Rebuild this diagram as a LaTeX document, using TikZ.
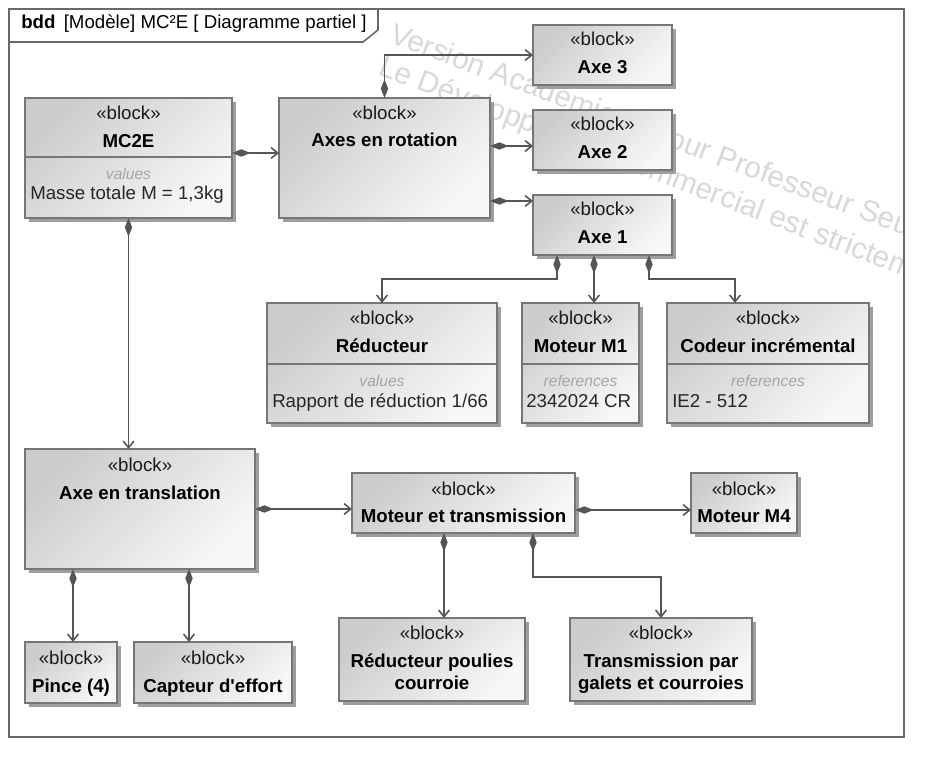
\documentclass[tikz,border=0pt]{standalone}
\usepackage{fontspec}
\setmainfont{Liberation Sans}
\usepackage{xcolor}
\usepackage{tikz}
\usetikzlibrary{arrows.meta}
\usetikzlibrary{calc}
\usetikzlibrary{shadows}

\definecolor{framegray}{RGB}{105,105,105}
\definecolor{boxgray}{RGB}{118,118,118}
\definecolor{shadowgray}{RGB}{158,158,158}
\definecolor{blockdark}{RGB}{204,204,204}
\definecolor{blocklight}{RGB}{247,247,247}
\definecolor{linkgray}{RGB}{85,85,85}
\definecolor{labelgray}{RGB}{165,165,165}
\definecolor{wmgray}{RGB}{216,216,216}

\begin{document}
\begin{tikzpicture}[x=0.75pt,y=0.75pt,yscale=-1,xscale=1,
  block/.style={draw=boxgray, line width=1.1pt, left color=blockdark, right color=blocklight, shading angle=45,
    drop shadow={shadow xshift=3pt, shadow yshift=-3pt, fill=shadowgray, opacity=1},
    anchor=north west, inner sep=0pt, outer sep=0pt},
  bsize/.style 2 args={minimum width=#1*0.75pt, minimum height=#2*0.75pt},
  stereo/.style={font=\fontsize{14}{16}\selectfont, text=black!90, anchor=base, inner sep=0pt},
  bname/.style={font=\fontsize{14}{16}\selectfont\bfseries, anchor=base, inner sep=0pt},
  ctitle/.style={font=\fontsize{11.7}{14}\selectfont\itshape, text=labelgray, anchor=base, inner sep=0pt},
  cvalue/.style={font=\fontsize{14}{16}\selectfont, text=black!85, anchor=base west, inner sep=0pt},
  wmark/.style={font=\fontsize{22.3}{24}\selectfont, text=wmgray, anchor=base west, inner sep=0pt},
  divider/.style={draw=boxgray, line width=1.1pt},
  comp/.style={draw=linkgray, line width=1.2pt, {Diamond[length=14pt,width=5.5pt]}-{Straight Barb[length=5pt,width=8pt]}},
]
\fill[white] (0,0) rectangle (929,763);
\path[use as bounding box] (0,0) rectangle (929,763);

%Watermark
\begin{scope}
\clip (9,9) rectangle (904,737);
\node[wmark, rotate=-20.5] (wm1) at (388,42) {Version Académique pour Professeur Seul};
\node[wmark, rotate=-21] (wm2) at (377,74) {Le Développement commercial est strictem};
\end{scope}

%Frame and title tab
\draw[framegray, line width=1.2pt] (9,9) rectangle (904,737);
\draw[framegray, line width=1.2pt, fill=white] (9,9) -- (9,42) -- (363,42) -- (378,30) -- (378,9) -- cycle;
% Text Node
\node[cvalue, text=black] (title) at (21,29) {\textbf{bdd}\, [Modèle] MC²E [ Diagramme partiel ]};

%Shape: Blocks
\node[block, bsize={207}{120}] (mc) at (25,98) {};
\node[block, bsize={211}{120}] (ar) at (279,98) {};
\node[block, bsize={139}{60}] (a3) at (533,25) {};
\node[block, bsize={139}{60}] (a2) at (533,110) {};
\node[block, bsize={139}{60}] (a1) at (533,195) {};
\node[block, bsize={230}{120}] (red) at (267,303) {};
\node[block, bsize={117}{120}] (m1) at (522,303) {};
\node[block, bsize={202}{120}] (cod) at (667,303) {};
\node[block, bsize={230}{120}] (at) at (25,449) {};
\node[block, bsize={223}{60}] (mt) at (352,473) {};
\node[block, bsize={106}{60}] (m4) at (691,473) {};
\node[block, bsize={92}{61}] (pi) at (25,642) {};
\node[block, bsize={158}{61}] (cap) at (134,642) {};
\node[block, bsize={186}{83}] (rp) at (339,618) {};
\node[block, bsize={182}{83}] (tr) at (570,618) {};

%Compartment lines
\draw[divider] ($(mc.north west)+(0,59)$) -- ($(mc.north east)+(0,59)$);
\draw[divider] ($(red.north west)+(0,61)$) -- ($(red.north east)+(0,61)$);
\draw[divider] ($(m1.north west)+(0,61)$) -- ($(m1.north east)+(0,61)$);
\draw[divider] ($(cod.north west)+(0,61)$) -- ($(cod.north east)+(0,61)$);

% Text Node
\node[stereo] (mcst) at (128.5,120) {«block»};
\node[bname] (mcname) at (128.5,148) {MC2E};
\node[ctitle] (mcvt) at (128.5,180) {values};
\node[cvalue] (mcval) at (30,200) {Masse totale M = 1,3kg};
% Text Node
\node[stereo] (arst) at (384.5,120) {«block»};
\node[bname] (arname) at (384.5,147) {Axes en rotation};
% Text Node
\node[stereo] (a3st) at (602.5,46) {«block»};
\node[bname] (a3name) at (602.5,74) {Axe 3};
\node[stereo] (a2st) at (602.5,131) {«block»};
\node[bname] (a2name) at (602.5,159) {Axe 2};
\node[stereo] (a1st) at (602.5,216) {«block»};
\node[bname] (a1name) at (602.5,244) {Axe 1};
% Text Node
\node[stereo] (redst) at (382,325) {«block»};
\node[bname] (redname) at (382,353) {Réducteur};
\node[ctitle] (redvt) at (382,386) {values};
\node[cvalue] (redval) at (272,407) {Rapport de réduction 1/66};
% Text Node
\node[stereo] (m1st) at (580.5,325) {«block»};
\node[bname] (m1name) at (580.5,353) {Moteur M1};
\node[ctitle] (m1rt) at (580.5,386) {references};
\node[cvalue] (m1val) at (526,407) {2342024 CR};
% Text Node
\node[stereo] (codst) at (768,325) {«block»};
\node[bname] (codname) at (768,353) {Codeur incrémental};
\node[ctitle] (codrt) at (768,386) {references};
\node[cvalue] (codval) at (672,407) {IE2 - 512};
% Text Node
\node[stereo] (atst) at (140,471) {«block»};
\node[bname] (atname) at (140,499) {Axe en translation};
\node[stereo] (mtst) at (463.5,495) {«block»};
\node[bname] (mtname) at (463.5,522) {Moteur et transmission};
\node[stereo] (m4st) at (744,495) {«block»};
\node[bname] (m4name) at (744,522) {Moteur M4};
% Text Node
\node[stereo] (pist) at (71,664) {«block»};
\node[bname] (piname) at (71,692) {Pince (4)};
\node[stereo] (capst) at (213,664) {«block»};
\node[bname] (capname) at (213,692) {Capteur d\textquotesingle effort};
\node[stereo] (rpst) at (432,639) {«block»};
\node[bname] (rpname) at (432,667) {Réducteur poulies};
\node[bname] (rpname2) at (432,689) {courroie};
\node[stereo] (trst) at (661,639) {«block»};
\node[bname] (trname) at (661,667) {Transmission par};
\node[bname] (trname2) at (661,689) {galets et courroies};

%Straight Lines
\draw[comp] ($(mc.east)+(0,-5)$) -- ($(ar.west)+(0,-5)$);
\draw[comp] (mc.south) -- (mc.south |- at.north);
\draw[comp] (ar.north) |- (a3.west);
\draw[comp] ($(ar.east |- a2.west)+(0,6)$) -- ($(a2.west)+(0,6)$);
\draw[comp] ($(ar.east |- a1.north)+(0,6)$) -- ($(a1.north west)+(0,6)$);
\draw[comp] ($(a1.south west)+(24,0)$) |- ($(red.north)+(0,-24)$) -- (red.north);
\draw[comp] ($(a1.south west)+(61,0)$) -- ($(m1.north west)+(72,0)$);
\draw[comp] ($(a1.south west)+(116,0)$) |- ($(cod.north west)+(68,-24)$) -- ($(cod.north west)+(68,0)$);
\draw[comp] (at.east) -- (at.east -| mt.west);
\draw[comp] ($(mt.east)+(0,7)$) -- ($(m4.west)+(0,7)$);
\draw[comp] ($(at.south west)+(48,0)$) -- ($(pi.north west)+(48,0)$);
\draw[comp] ($(at.south west)+(164,0)$) -- ($(cap.north west)+(55,0)$);
\draw[comp] ($(mt.south west)+(92,0)$) -- ($(rp.north west)+(105,0)$);
\draw[comp] ($(mt.south west)+(181,0)$) |- ($(tr.north)+(0,-41)$) -- (tr.north);

\end{tikzpicture}
\end{document}
